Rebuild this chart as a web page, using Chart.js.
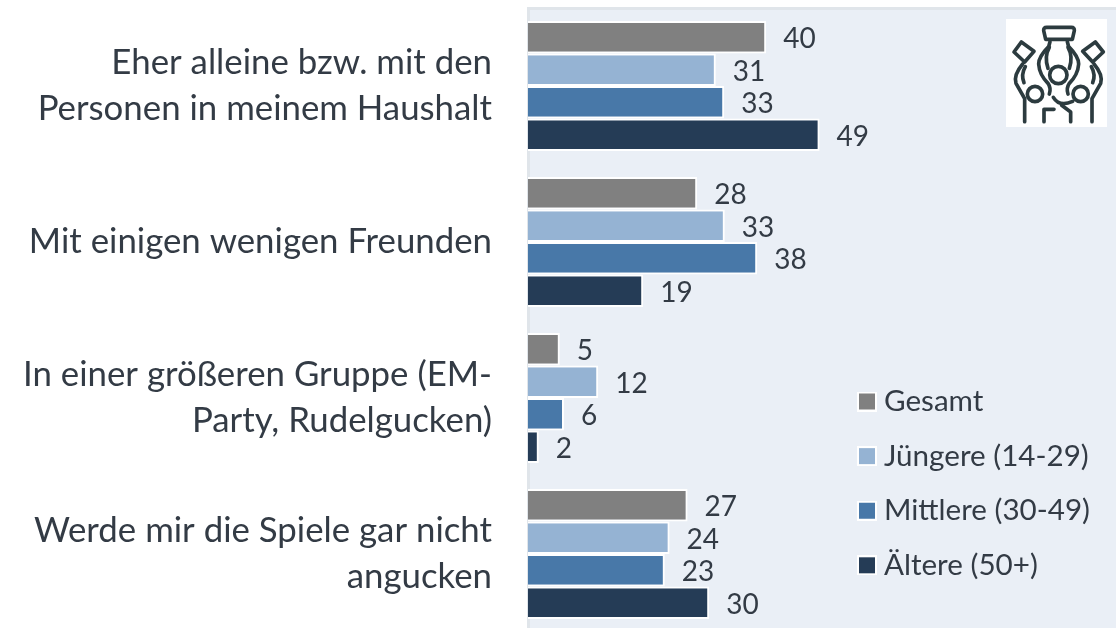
<!DOCTYPE html>
<html lang="de">
<head>
<meta charset="utf-8">
<title>Chart</title>
<script src="https://cdn.jsdelivr.net/npm/chart.js@4"></script>
<style>
html,body{margin:0;padding:0;background:#fff;width:1116px;height:628px;overflow:hidden}
#wrap{position:relative;width:1116px;height:636px}
#icon{position:absolute;left:1006px;top:19px;width:101px;height:108px;background:#fff}
</style>
</head>
<body>
<div id="wrap">
<canvas id="c" width="1116" height="636"></canvas>
<svg id="icon" viewBox="78 57 303 324" fill="none" stroke="#2c3b3f" stroke-width="11" stroke-linecap="round" stroke-linejoin="round">
  <path d="M197 118 L191 92 Q190 82 200 82 L274 82 Q284 82 283 92 L277 118 Z"/>
  <circle cx="235" cy="225" r="26"/>
  <circle cx="165" cy="282" r="23"/>
  <circle cx="302" cy="282" r="23"/>
  <path d="M124 126 L162 154 L134 186 L102 156 Z"/>
  <path d="M346 126 L370 156 L338 186 L308 154 Z"/>
  <path d="M210 125 L206 140 Q176 170 176 192 Q178 224 204 250 Q214 265 208 282"/>
  <path d="M208 142 Q192 170 204 205"/>
  <path d="M262 125 L266 140 Q296 170 296 192 Q294 224 268 250 Q258 265 264 282"/>
  <path d="M264 142 Q280 170 268 205"/>
  <path d="M128 192 Q100 225 108 250 L134 296 L134 365"/>
  <path d="M136 200 Q122 225 132 248"/>
  <path d="M342 192 Q370 225 362 250 L336 296 L336 365"/>
  <path d="M334 200 Q348 225 338 248"/>
  <path d="M192 365 L192 328 L222 328"/>
  <path d="M220 292 Q238 322 278 304"/>
  <path d="M245 316 L272 336 L272 365"/>
</svg>
</div>
<script>
const categories = [
  ["Eher alleine bzw. mit den", "Personen in meinem Haushalt"],
  "Mit einigen wenigen Freunden",
  ["In einer größeren Gruppe (EM-", "Party, Rudelgucken)"],
  ["Werde mir die Spiele gar nicht", "angucken"]
];
const seriesNames = ["Gesamt", "Jüngere (14-29)", "Mittlere (30-49)", "Ältere (50+)"];
const gesamt = [39.7, 28.2, 5.3, 26.6];
const juengere = [31.3, 32.8, 11.7, 23.6];
const mittlere = [32.7, 38.2, 6.0, 22.8];
const aeltere = [48.6, 19.2, 1.8, 30.2];
const seriesColors = ["#808080", "#95b3d3", "#4878a8", "#253c56"];

const FONT = "Lato, Carlito, sans-serif";
const TEXT = "#333b45";
const values = [gesamt, juengere, mittlere, aeltere];

function swatch(color) {
  const s = document.createElement("canvas");
  s.width = 20; s.height = 20;
  const g = s.getContext("2d");
  g.fillStyle = "#fff"; g.fillRect(0, 0, 20, 20);
  g.fillStyle = color; g.fillRect(2, 2, 16, 16);
  return s;
}

const panel = {
  id: "panel",
  beforeDraw(chart) {
    const { ctx, chartArea: a } = chart;
    ctx.save();
    ctx.fillStyle = "#e0e5ea";
    ctx.fillRect(a.left - 1, a.top - 1, a.right - a.left + 1, a.bottom - a.top + 1);
    ctx.fillStyle = "#eaeff6";
    ctx.fillRect(a.left + 2, a.top + 2, a.right - a.left, a.bottom - a.top);
    ctx.restore();
  }
};

const valueLabels = {
  id: "valueLabels",
  afterDatasetsDraw(chart) {
    const { ctx } = chart;
    ctx.save();
    ctx.font = "28px " + FONT;
    ctx.fillStyle = TEXT;
    ctx.textAlign = "left";
    ctx.textBaseline = "middle";
    chart.data.datasets.forEach((d, i) => {
      chart.getDatasetMeta(i).data.forEach((bar, j) => {
        ctx.fillText(String(Math.round(d.data[j])), bar.x + 17, bar.y + 2);
      });
    });
    ctx.restore();
  }
};

const placeLegend = {
  id: "placeLegend",
  afterLayout(chart) {
    const l = chart.legend;
    const w = l.width;
    l.left = 839.8;
    l.right = l.left + w;
    l.top = 361.7;
    l.bottom = l.top + l.height;
  }
};

new Chart(document.getElementById("c"), {
  type: "bar",
  data: {
    labels: categories,
    datasets: seriesNames.map((name, i) => ({
      label: name,
      data: values[i],
      backgroundColor: seriesColors[i],
      borderColor: "#ffffff",
      borderWidth: 2,
      categoryPercentage: 130 / 156,
      barPercentage: 1
    }))
  },
  options: {
    indexAxis: "y",
    responsive: false,
    animation: false,
    layout: { padding: { top: 8, bottom: 4, left: 0, right: 0 } },
    scales: {
      x: { display: false, min: 0, max: 98 },
      y: {
        afterFit(s) { s.width = 528; s.paddingTop = 0; s.paddingBottom = 0; },
        grid: { display: false, drawTicks: false },
        border: { display: false },
        ticks: {
          color: TEXT,
          padding: 36,
          font: { family: FONT, size: 34.8, lineHeight: 1.33 },
          autoSkip: false
        }
      }
    },
    plugins: {
      tooltip: { enabled: false },
      legend: {
        position: "chartArea",
        align: "start",
        labels: {
          color: TEXT,
          padding: 25,
          font: { family: FONT, size: 29.6 },
          usePointStyle: true,
          pointStyleWidth: 4.4,
          boxHeight: 20,
          generateLabels(chart) {
            return chart.data.datasets.map((d, i) => ({
              text: d.label,
              pointStyle: swatch(seriesColors[i]),
              fillStyle: seriesColors[i],
              fontColor: TEXT,
              datasetIndex: i,
              hidden: false,
              lineWidth: 0
            }));
          }
        }
      }
    }
  },
  plugins: [panel, valueLabels, placeLegend]
});
</script>
</body>
</html>
